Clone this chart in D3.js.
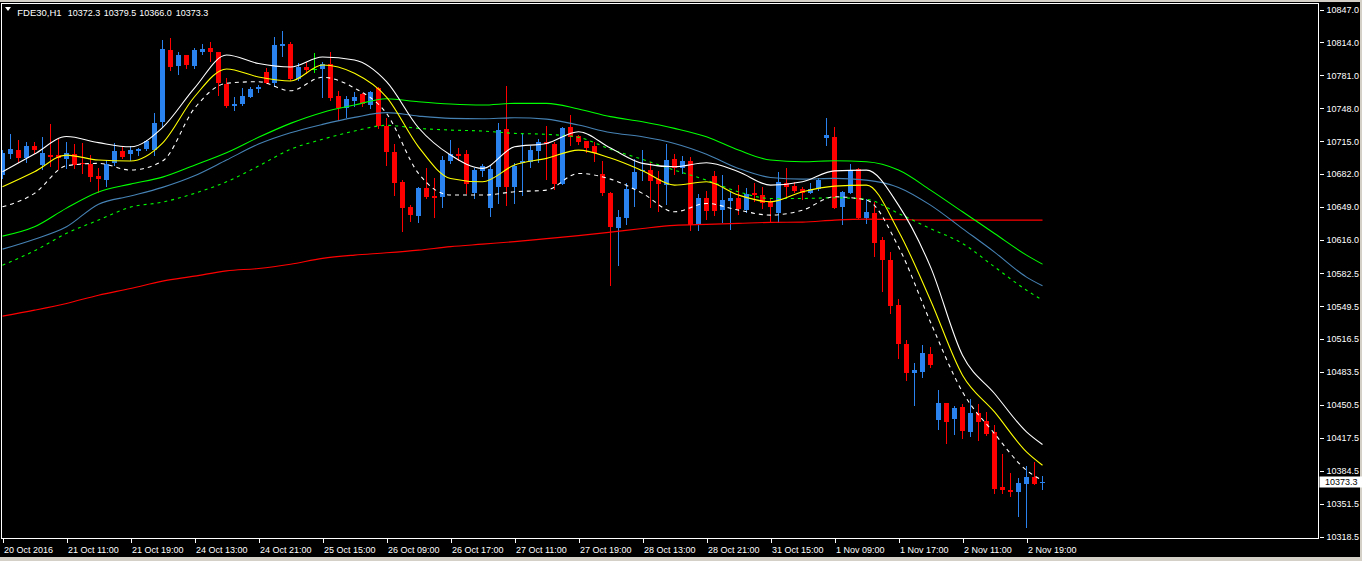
<!DOCTYPE html>
<html><head><meta charset="utf-8">
<script src="https://cdn.jsdelivr.net/npm/d3@7"></script>
<style>
html,body{margin:0;padding:0;background:#d4d0c8;overflow:hidden}
svg{display:block}
text{font-family:"Liberation Sans",Arial,sans-serif}
</style></head><body>
<svg id="c" width="1362" height="561"></svg>
<script>
// ---- DATA (H1 bars, index 0 = first visible bar) ----
const symbolTitle = "FDE30,H1";
const headerValues = ["10372.3", "10379.5", "10366.0", "10373.3"];
const barOpen = [10681,10702,10706,10698,10710,10691,10701,10701,10697,10702,10693,10692,10680,10676,10693,10705,10702,10705,10707,10706,
10734,10806,10790,10801,10790,10804,10808,10804,10772,10750,10752,10759,10767,10784,10773,10810,10812,10777,10789,10787,
10787,10792,10760,10748,10755,10762,10751,10768,10730,10704,10674,10649,10640,10668,10660,10659,10695,10702,10702,10663,
10685,10648,10669,10727,10669,10693,10694,10705,10714,10712,10672,10729,10720,10715,10710,10682,10663,10628,10638,10667,
10685,10686,10677,10671,10697,10688,10695,10631,10658,10680,10646,10655,10658,10646,10663,10661,10654,10643,10673,10670,
10667,10663,10667,10718,10719,10649,10663,10687,10638,10643,10616,10596,10551,10512,10482,10483,10502,10435,10452,10436,
10448,10423,10442,10434,10423,10368,10365,10363,10371,10378,10372.3];
const barHigh = [10706,10722,10716,10714,10714,10719,10732,10718,10714,10712,10713,10701,10688,10696,10713,10709,10710,10708,10716,10743,
10816,10818,10804,10801,10808,10812,10814,10804,10778,10759,10768,10769,10771,10788,10819,10825,10814,10793,10794,10803,
10794,10804,10765,10760,10764,10763,10765,10769,10738,10712,10676,10651,10669,10688,10678,10700,10716,10708,10706,10688,
10692,10691,10733,10770,10693,10723,10710,10717,10730,10714,10729,10741,10721,10715,10714,10695,10664,10646,10673,10697,
10706,10694,10685,10712,10702,10700,10699,10662,10665,10685,10681,10664,10671,10668,10673,10669,10658,10684,10688,10674,
10669,10673,10678,10738,10729,10665,10692,10688,10657,10654,10619,10604,10557,10516,10492,10511,10509,10465,10452,10449,
10451,10456,10451,10443,10430,10401,10382,10377,10389,10393,10379.5];
const barLow = [10678,10698,10694,10694,10703,10687,10690,10687,10688,10688,10683,10675,10664,10670,10691,10698,10696,10701,10706,10701,
10730,10786,10782,10788,10788,10802,10795,10761,10749,10746,10751,10759,10764,10773,10770,10800,10776,10776,10783,10784,
10759,10756,10736,10739,10750,10750,10748,10728,10691,10661,10625,10635,10634,10658,10639,10649,10693,10696,10663,10658,
10680,10640,10653,10651,10653,10661,10689,10694,10677,10667,10672,10711,10712,10704,10695,10661,10570.5,10591,10632,10650,
10676,10649,10645,10652,10682,10683,10626,10626,10637,10641,10634,10627,10642,10644,10655,10648,10634,10634,10659,10664,
10657,10663,10666,10711,10648,10632,10663,10638,10633,10600,10565,10543,10498,10475,10450,10478,10488,10426,10412,10421,
10417,10419,10415,10420,10362,10362,10359,10339,10328,10371,10366.0];
const barClose = [10703,10707,10698,10710,10706,10703,10699,10698,10703,10691,10692,10679,10677,10692,10705,10699,10706,10707,10715,10733,
10807,10789,10801,10791,10806,10807,10804,10773,10750,10752,10760,10767,10769,10773,10811,10812,10777,10789,10786,10787,
10792,10758,10748,10757,10759,10752,10764,10730,10704,10673,10648,10641,10668,10659,10658,10696,10702,10700,10672,10686,
10690,10687,10726,10669,10690,10695,10706,10714,10712,10672,10728,10719,10714,10708,10703,10663,10629,10639,10667,10684,
10686,10675,10672,10696,10688,10695,10631,10658,10645,10645,10656,10658,10647,10662,10661,10653,10649,10674,10669,10665,
10663,10667,10676,10721,10648,10664,10686,10638,10644,10613,10596,10550,10512,10482,10485,10503,10490,10452,10433,10447,
10424,10442,10433,10421,10366,10365,10363,10372,10378,10371,10373.3];

// indicator readings, sampled at these bar indices
const maBars = [0,4,8,12,16,20,24,28,32,36,40,44,48,52,56,60,64,68,72,76,80,84,88,92,96,100,104,108,112,116,120,124,128,130];
const fastUpper = [10684.3,10702.0,10719.6,10713.5,10709.3,10728.6,10768.2,10801.3,10792.8,10789.3,10799.3,10796.3,10774.6,10728.4,10701.0,10687.7,10709.3,10712.7,10724.4,10708.0,
10692.7,10689.3,10693.3,10684.3,10670.9,10674.2,10685.2,10685.9,10650.8,10588.9,10500.3,10461.9,10423.4,10410.7];
const fastMA = [10669.2,10684.3,10701.0,10696.0,10695.0,10713.0,10759.5,10787.3,10779.3,10775.3,10791.3,10783.0,10759.2,10709.3,10677.6,10674.2,10691.0,10697.7,10706.0,10698.0,
10685.3,10670.9,10674.2,10660.9,10654.1,10664.2,10669.9,10670.9,10624.7,10555.5,10480.3,10443.4,10403.3,10389.9];
const fastLower = [10649.1,10662.6,10690.3,10692.7,10686.0,10695.0,10747.9,10773.0,10774.6,10765.5,10779.0,10768.2,10742.8,10682.6,10660.9,10660.9,10664.2,10665.9,10682.6,10676.9,
10662.6,10644.1,10652.5,10645.8,10640.8,10645.8,10659.2,10655.9,10609.0,10533.4,10463.5,10421.7,10384.9,10374.9];
const slowUpper = [10619.7,10629.1,10647.8,10663.9,10671.9,10678.9,10690.9,10703.3,10718.8,10732.8,10743.8,10751.2,10757.5,10754.5,10752.2,10751.2,10752.9,10752.9,10747.2,10739.6,
10734.4,10727.8,10719.4,10706.0,10696.0,10694.3,10695.3,10694.3,10686.0,10665.9,10644.1,10622.4,10600.7,10591.6];
const slowMA = [10606.7,10616.7,10629.1,10651.8,10659.9,10668.6,10680.2,10696.0,10712.0,10723.4,10731.8,10738.8,10743.6,10740.1,10737.8,10737.4,10738.4,10737.1,10731.1,10723.6,
10719.4,10712.7,10701.9,10687.6,10678.6,10676.9,10677.6,10675.9,10668.6,10650.8,10627.3,10603.7,10578.6,10569.9];
const slowLower = [10590.6,10605.0,10622.5,10635.8,10648.8,10653.8,10662.6,10674.2,10690.0,10706.8,10716.8,10725.1,10730.8,10727.8,10726.1,10725.1,10722.8,10721.8,10718.8,10706.8,
10696.7,10685.9,10675.9,10664.2,10657.5,10657.5,10658.2,10656.6,10642.5,10627.3,10612.4,10588.9,10565.5,10555.5];
const longMA = [10539.5,10545.5,10552.2,10560.5,10567.2,10574.6,10579.6,10584.9,10587.3,10591.6,10597.4,10600.7,10603.0,10605.7,10609.2,10611.7,10614.2,10617.2,10620.2,10623.7,
10627.4,10630.5,10631.5,10632.5,10633.5,10633.8,10635.8,10636.8,10636.3,10635.8,10635.8,10635.8,10635.8,10635.8];

const priceTicks = [10847.0,10814.0,10781.0,10748.0,10715.0,10682.0,10649.0,10616.0,10582.5,10549.5,10516.5,10483.5,10450.5,10417.5,10384.5,10351.5,10318.5];
const timeTickBars = [0,8,16,24,32,40,48,56,64,72,80,88,96,104,112,120,128];
const timeTickLabels = ["20 Oct 2016","21 Oct 11:00","21 Oct 19:00","24 Oct 13:00","24 Oct 21:00","25 Oct 15:00","26 Oct 09:00","26 Oct 17:00",
"27 Oct 11:00","27 Oct 19:00","28 Oct 13:00","28 Oct 21:00","31 Oct 15:00","1 Nov 09:00","1 Nov 17:00","2 Nov 11:00","2 Nov 19:00"];
const lastPrice = 10373.3;

// ---- CHART ----
const W = 1362, H = 561;
const L = 1.5, T = 3.5, R = 1318.5, B = 538.5;
const svg = d3.select("#c");
svg.append("rect").attr("x",0).attr("y",0).attr("width",W).attr("height",H).attr("fill","#d4d0c8");
svg.append("rect").attr("x",0).attr("y",2).attr("width",1360).attr("height",555).attr("fill","#000");

const x = d3.scaleLinear().domain([0,130]).range([2.5,1042.5]);
const y = d3.scaleLinear().domain([10318.5,10847]).range([536.5,9.5]);

svg.append("clipPath").attr("id","plot").append("rect")
  .attr("x",L).attr("y",T).attr("width",R-L).attr("height",B-T);
const g = svg.append("g").attr("clip-path","url(#plot)");

const bars = barOpen.map((o,i)=>({i, o, h:barHigh[i], l:barLow[i], c:barClose[i]}));
const BULL = "#2a82ee", BEAR = "#ff0000", DOJI = "#00ff00";
const col = d => d.c > d.o ? BULL : (d.c < d.o ? BEAR : DOJI);

const cg = g.append("g").attr("shape-rendering","crispEdges");
cg.selectAll("line.wick").data(bars).join("line")
  .attr("x1",d=>Math.floor(x(d.i))+0.5).attr("x2",d=>Math.floor(x(d.i))+0.5)
  .attr("y1",d=>Math.round(y(d.h))).attr("y2",d=>Math.round(y(d.l))+1)
  .attr("stroke",col).attr("stroke-width",1);
cg.selectAll("rect.body").data(bars).join("rect")
  .attr("x",d=>Math.floor(x(d.i))-2)
  .attr("width",5)
  .attr("y",d=>Math.round(y(Math.max(d.o,d.c))))
  .attr("height",d=>Math.max(1, Math.round(y(Math.min(d.o,d.c))) - Math.round(y(Math.max(d.o,d.c)))))
  .attr("fill",col);

const line = d3.line().x(d=>x(d[0])).y(d=>y(d[1])).curve(d3.curveMonotoneX);
const series = [
  {v:longMA, c:"#ff0000", dash:null},
  {v:slowLower, c:"#00ff00", dash:"3,4"},
  {v:slowMA, c:"#4682b4", dash:null},
  {v:slowUpper, c:"#00ff00", dash:null},
  {v:fastLower, c:"#ffffff", dash:"4,4"},
  {v:fastMA, c:"#ffff00", dash:null},
  {v:fastUpper, c:"#ffffff", dash:null}
];
series.forEach(s=>{
  g.append("path").datum(maBars.map((b,k)=>[b,s.v[k]]))
    .attr("d",line).attr("fill","none").attr("stroke",s.c).attr("stroke-width",1.1)
    .attr("stroke-dasharray",s.dash);
});

// border
svg.append("rect").attr("x",L).attr("y",T).attr("width",R-L).attr("height",B-T)
  .attr("fill","none").attr("stroke","#fff").attr("stroke-width",1).attr("shape-rendering","crispEdges");

// price axis
const ya = svg.append("g").attr("transform",`translate(${R+1},0)`)
  .call(d3.axisRight(y).tickValues(priceTicks).tickFormat(d3.format(".1f")).tickSize(4).tickPadding(3));
ya.select(".domain").remove();
ya.selectAll("line").attr("stroke","#fff").attr("shape-rendering","crispEdges");
ya.selectAll("text").attr("fill","#fff").attr("font-size","9px").attr("font-family","Liberation Sans, Arial, sans-serif");

// current price box
const yp = y(lastPrice);
svg.append("rect").attr("x",1319.5).attr("y",Math.round(yp)-5.5).attr("width",43).attr("height",11).attr("fill","#fff");
svg.append("text").attr("x",1325).attr("y",yp).attr("dy","0.35em").attr("font-size","9px").attr("fill","#000")
  .text(d3.format(".1f")(lastPrice));

// time axis
const xa = svg.append("g").attr("transform",`translate(0,${B})`)
  .call(d3.axisBottom(x).tickValues(timeTickBars).tickFormat((d,i)=>timeTickLabels[i]).tickSize(4).tickPadding(4));
xa.select(".domain").remove();
xa.selectAll("line").attr("stroke","#fff").attr("shape-rendering","crispEdges");
xa.selectAll("text").attr("fill","#fff").attr("font-size","9px").attr("text-anchor","start").attr("x",1)
  .attr("font-family","Liberation Sans, Arial, sans-serif");

// header
svg.append("path").attr("d","M5,7 L11,7 L8,11 Z").attr("fill","#fff");
svg.append("text").attr("x",17.3).attr("y",16).attr("font-size","9.5px").attr("fill","#fff").text(symbolTitle);
const hx = [67.7,103.7,139.3,175.7];
headerValues.forEach((v,k)=>{
  svg.append("text").attr("x",hx[k]).attr("y",16).attr("font-size","9px").attr("fill","#fff").text(v);
});
</script>
</body></html>
